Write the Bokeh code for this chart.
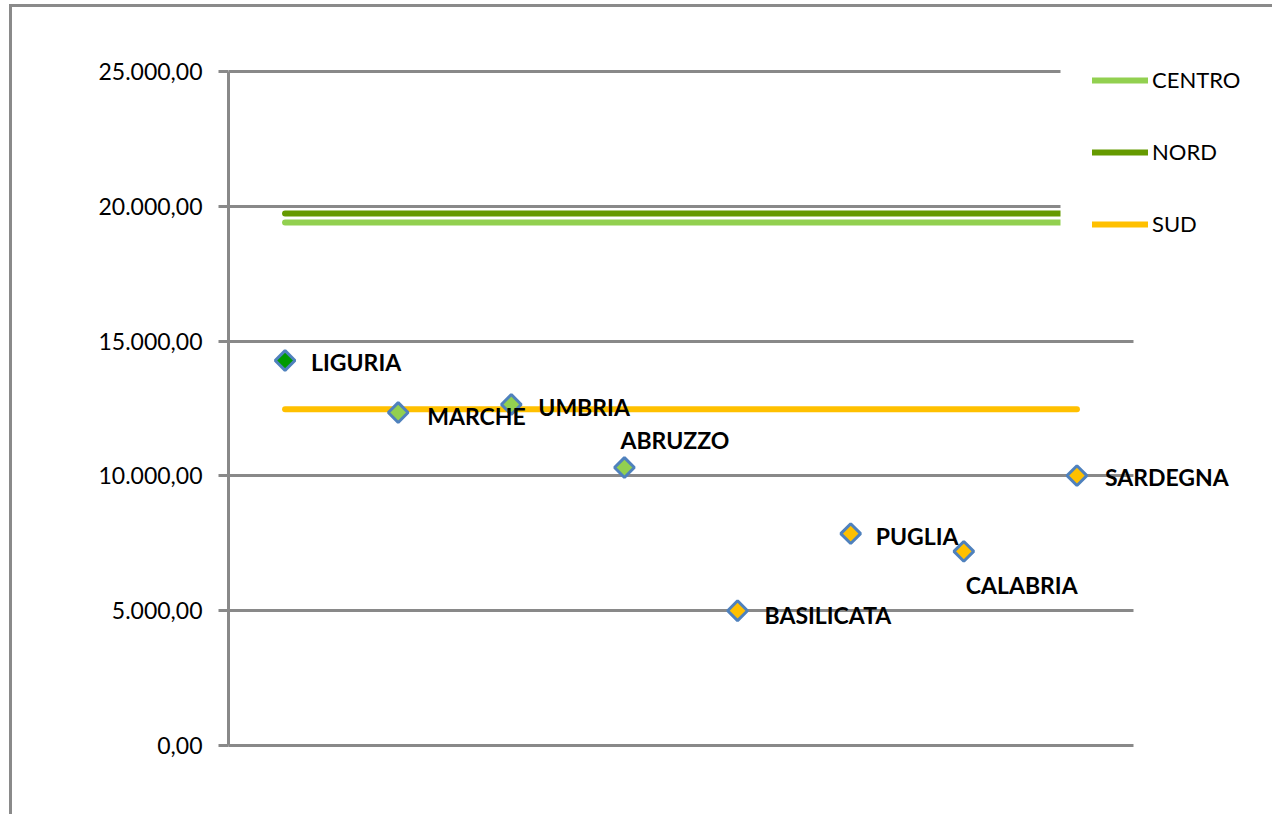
from bokeh.plotting import figure
from bokeh.models import (ColumnDataSource, Range1d, Legend, LegendItem, BoxAnnotation,
                          CustomJSTickFormatter, FixedTicker)
from bokeh.core.properties import value
from bokeh.embed import file_html
from bokeh.resources import INLINE

# ---- data ----
regions = ["LIGURIA", "MARCHE", "UMBRIA", "ABRUZZO", "BASILICATA", "PUGLIA", "CALABRIA", "SARDEGNA"]
values = [14280, 12350, 12650, 10310, 5000, 7860, 7200, 10010]
groups = ["NORD", "CENTRO", "CENTRO", "CENTRO", "SUD", "SUD", "SUD", "SUD"]
avg_names = ["CENTRO", "NORD", "SUD"]
avg_values = [19400, 19730, 12470]
y_ticks = [0, 5000, 10000, 15000, 20000, 25000]
y_max = 25000

# ---- style ----
group_fill = {"NORD": "#009A00", "CENTRO": "#92D050", "SUD": "#FFC000"}
line_color = {"CENTRO": "#92D050", "NORD": "#659A00", "SUD": "#FFC000"}
label_dx = {"LIGURIA": 26, "MARCHE": 29, "UMBRIA": 27, "ABRUZZO": -4, "BASILICATA": 27,
            "PUGLIA": 25, "CALABRIA": 2, "SARDEGNA": 28}
label_dy = {"LIGURIA": 1, "MARCHE": 3, "UMBRIA": 3, "ABRUZZO": -28, "BASILICATA": 4,
            "PUGLIA": 2, "CALABRIA": 34, "SARDEGNA": 1}
GRID = "#898989"

W, H = 1263, 810
LEFT, TOP, BOTTOM = 216, 23, 72
PLOT_W = 905                     # pixel width of the category axis
PLOT_H = 674                     # pixel height of the value axis (0 .. y_max)
n = len(regions)
px_per_cat = PLOT_W / n
x_end = 0.5 + (W - LEFT) / px_per_cat
y_end = y_max * (H - TOP - BOTTOM) / PLOT_H
x_pos = list(range(1, n + 1))

p = figure(width=W, height=H, output_backend="svg", toolbar_location=None,
           x_range=Range1d(0.5, x_end), y_range=Range1d(0, y_end),
           min_border_left=LEFT, min_border_right=0, min_border_top=TOP, min_border_bottom=BOTTOM)
p.outline_line_color = None
p.background_fill_color = "white"
p.border_fill_color = "white"
p.styles = {"border-left": "3px solid #8a8a8a", "border-top": "3px solid #8a8a8a",
            "margin-top": "4px", "margin-left": "9px"}

# axes
p.xaxis.ticker = FixedTicker(ticks=[])
p.xaxis.major_label_text_alpha = 0
p.xaxis.major_tick_line_color = None
p.xaxis.minor_tick_line_color = None
p.xaxis.axis_line_color = GRID
p.xaxis.axis_line_width = 3
p.xaxis.bounds = (0.5, n + 0.5)
p.xgrid.grid_line_color = None

p.yaxis.ticker = FixedTicker(ticks=y_ticks)
p.yaxis.bounds = (0, y_max)
p.yaxis.formatter = CustomJSTickFormatter(code="""
    const s = tick.toFixed(2);
    const parts = s.split('.');
    const i = parts[0].replace(/\\B(?=(\\d{3})+(?!\\d))/g, '.');
    return i + ',' + parts[1];
""")
p.yaxis.axis_line_color = GRID
p.yaxis.axis_line_width = 3
p.yaxis.major_tick_line_color = GRID
p.yaxis.major_tick_line_width = 3
p.yaxis.major_tick_out = 10
p.yaxis.major_tick_in = 0
p.yaxis.minor_tick_line_color = None
p.yaxis.major_label_standoff = 16
p.yaxis.major_label_text_font = "Lato"
p.yaxis.major_label_text_font_size = "23px"
p.yaxis.major_label_text_color = "black"
p.ygrid.grid_line_color = GRID
p.ygrid.grid_line_width = 3

# hide gridlines beyond the category axis (drawn under the glyphs)
p.add_layout(BoxAnnotation(left=n + 0.5, fill_color="white", fill_alpha=1.0,
                           line_color=None, level="underlay"))

# average lines
renderers = {}
for name, v in zip(avg_names, avg_values):
    r = p.line(x=[x_pos[0], x_pos[-1]], y=[v, v], line_color=line_color[name],
               line_width=6, line_cap="round")
    renderers[name] = r

# points
src = ColumnDataSource(dict(
    x=x_pos, y=values, name=regions,
    fill=[group_fill[g] for g in groups],
    dx=[label_dx[r] for r in regions],
    dy=[label_dy[r] for r in regions],
))
p.scatter(x="x", y="y", source=src, marker="square", angle=45, angle_units="deg", size=14,
          fill_color="fill", line_color="#4F81BD", line_width=3)
p.text(x="x", y="y", text="name", source=src, x_offset="dx", y_offset="dy",
       text_font=value("Lato"), text_font_style="bold", text_font_size="23px",
       text_color="black", text_align="left", text_baseline="middle")

# white area behind legend
p.add_layout(BoxAnnotation(left=n + 0.5 - 73 / px_per_cat, bottom=17400,
                           fill_color="white", fill_alpha=1.0, line_color=None))

legend = Legend(items=[LegendItem(label=nm, renderers=[renderers[nm]]) for nm in avg_names],
                location=(864, 508), padding=0, spacing=45, margin=0,
                glyph_width=56, glyph_height=20, label_height=20, label_standoff=4,
                label_text_font="Lato", label_text_font_size="22px", label_text_color="black",
                background_fill_alpha=0.0, border_line_color=None)
p.add_layout(legend)

open("out.html", "w").write(file_html(p, INLINE))
